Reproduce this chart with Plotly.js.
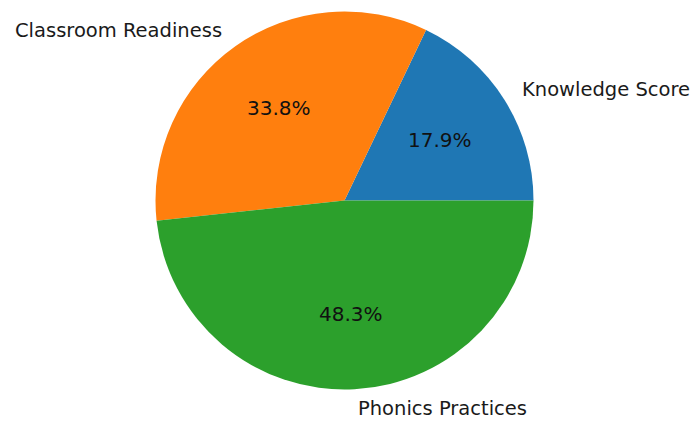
<!DOCTYPE html>
<html>
<head>
<meta charset="utf-8">
<script src="https://cdn.plot.ly/plotly-3.0.1.min.js"></script>
<style>html,body{margin:0;padding:0;background:#fff;}#chart{width:694px;height:421px;}</style>
</head>
<body>
<div id="chart"></div>
<script>
const categories = ["Knowledge Score", "Classroom Readiness", "Phonics Practices"];
const values = [17.9, 33.8, 48.3];
const colors = ["#1f77b4", "#ff7f0e", "#2ca02c"];

const W = 694, H = 421;
const cx = 344.5, cy = 200.5, R = 189;

const total = values.reduce((a, b) => a + b, 0);
const annotations = [];
let cum = 0;
values.forEach((v, i) => {
  const mid = (cum + v / 2) / total * 2 * Math.PI;
  cum += v;
  const c = Math.cos(mid), s = Math.sin(mid);
  annotations.push({
    xref: "paper", yref: "paper",
    x: (cx + 1.1 * R * c) / W, y: (H - (cy - 1.1 * R * s)) / H,
    text: categories[i], showarrow: false,
    xanchor: c >= 0 ? "left" : "right", yanchor: "middle",
    font: {family: "DejaVu Sans", size: 19.5, color: "#1a1a1a"}
  });
  annotations.push({
    xref: "paper", yref: "paper",
    x: (cx + 0.6 * R * c) / W, y: (H - (cy - 0.6 * R * s)) / H,
    text: (v / total * 100).toFixed(1) + "%", showarrow: false,
    xanchor: "center", yanchor: "middle",
    font: {family: "DejaVu Sans", size: 20, color: "#111"}
  });
});

const trace = {
  type: "pie",
  labels: categories,
  values: values,
  sort: false,
  direction: "counterclockwise",
  // Plotly adds the first slice to the rotation when counterclockwise; start first slice at 3 o'clock
  rotation: 90 - values[0] / total * 360,
  textinfo: "none",
  hoverinfo: "label+percent",
  marker: {colors: colors, line: {width: 0}},
  domain: {x: [(cx - R) / W, (cx + R) / W], y: [(H - cy - R) / H, (H - cy + R) / H]},
  showlegend: false
};

Plotly.newPlot("chart", [trace], {
  width: W, height: H,
  margin: {l: 0, r: 0, t: 0, b: 0},
  paper_bgcolor: "#fff",
  showlegend: false,
  annotations: annotations
}, {displayModeBar: false, staticPlot: true});
</script>
</body>
</html>
